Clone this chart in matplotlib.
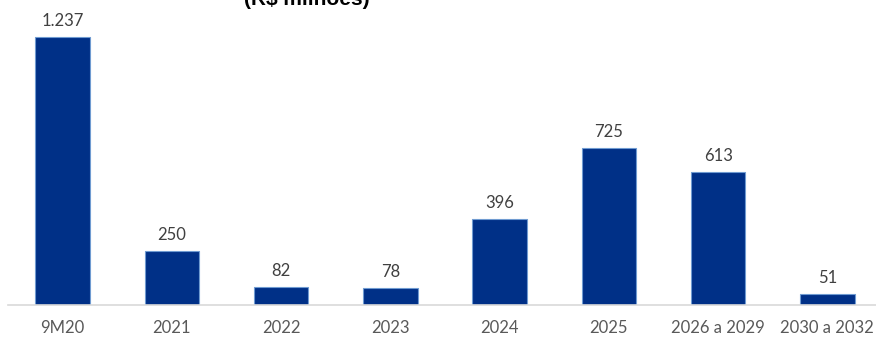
import matplotlib
matplotlib.use("Agg")
import matplotlib.pyplot as plt

categories = ["9M20", "2021", "2022", "2023", "2024", "2025", "2026 a 2029", "2030 a 2032"]
values = [1237, 250, 82, 78, 396, 725, 613, 51]
value_labels = ["1.237", "250", "82", "78", "396", "725", "613", "51"]
title = "(R$ milhões)"

W, H = 876, 338
fig = plt.figure(figsize=(W / 100, H / 100), dpi=100)
ax = fig.add_axes([8 / W, (H - 305) / H, 874 / W, 305 / H])

x = list(range(len(categories)))
ax.bar(x, values, width=0.5, color="#003087", edgecolor="#6f9bd1", linewidth=0.8, zorder=2)
ax.set_xlim(-0.5, len(categories) - 0.5)
ax.set_ylim(0, 1408)

for xi, v, lab in zip(x, values, value_labels):
    ax.annotate(lab, (xi, v), xytext=(0, 6), textcoords="offset points",
                ha="center", va="bottom", fontsize=12, family="Lato", color="#404040")

ax.set_xticks(x)
ax.set_xticklabels(categories, fontsize=12, family="Lato", color="#595959")
ax.tick_params(axis="x", length=0, pad=11)
ax.set_yticks([])
for s in ["top", "right", "left"]:
    ax.spines[s].set_visible(False)
ax.spines["bottom"].set_color("#d9d9d9")
ax.spines["bottom"].set_linewidth(1.2)
ax.patch.set_alpha(0)

fig.text(307 / W, (H - 9) / H, title, ha="center", va="bottom", fontsize=15,
         fontweight="bold", family="Liberation Sans", color="black")

fig.savefig("out.png", dpi=100)
